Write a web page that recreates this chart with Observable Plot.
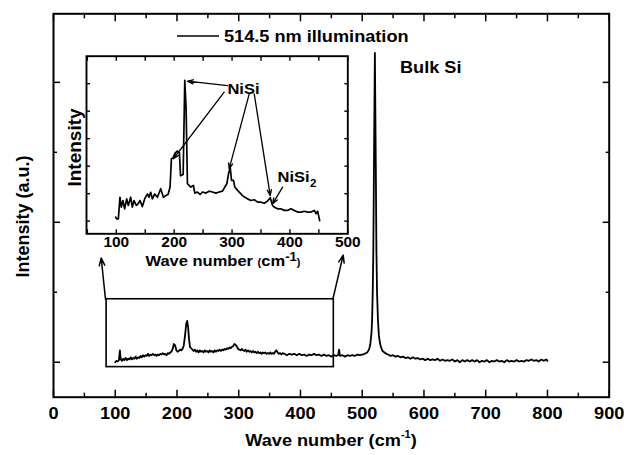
<!DOCTYPE html>
<html><head><meta charset="utf-8">
<script src="https://cdn.jsdelivr.net/npm/d3@7"></script>
<script src="https://cdn.jsdelivr.net/npm/@observablehq/plot@0.6"></script>
<style>
body{margin:0;background:#fff;}
#wrap{position:relative;width:624px;height:455px;background:#fff;}
#wrap svg{position:absolute;left:0;top:0;overflow:visible;}
</style></head><body><div id="wrap"></div>
<script>
// ---- main spectrum (wave number cm-1, intensity a.u.) ----
const mainWave = [100,102,104,106,107.5,109,111,113,115,117,119,121,123,125,127,129,131,133,135,137,139,141,143,145,147,149,151,153,155,157,159,161,163,165,167,169,171,173,175,177,179,181,183,185,187,189,191,193,195,197,199,201,203,205,207,209,211,213,215,216.5,218,219.5,221,223,225,227,229,231,233,235,237,239,241,243,245,247,249,251,253,255,257,259,261,263,265,267,269,271,273,275,277,279,281,283,285,287,289,291,293,295,297,299,301,303,305,307,309,311,313,315,317,319,321,323,325,327,329,331,333,335,337,339,341,343,345,347,349,351,353,355,357,359,361,363,365,367,369,371,374,378,382,386,390,394,398,402,406,410,414,418,422,426,430,434,438,442,446,450,454,458,461,462.5,464,468,472,476,480,484,488,492,496,500,504,508,511,513,515,516,517,518,519,520.5,522,523,524,525.5,527,529,531,533,536,539,542,546,550,554,558,562,566,570,574,578,582,586,590,594,598,602,606,610,614,618,622,626,630,634,638,642,646,650,654,658,662,666,670,674,678,682,686,690,694,698,702,706,710,714,718,722,726,730,734,738,742,746,750,754,758,762,766,770,774,778,782,786,790,794,798,800];
const mainIntensity = [0.0,0.02,0.01,0.03,0.17,0.04,0.02,0.05,0.03,0.06,0.03,0.05,0.04,0.07,0.04,0.06,0.05,0.08,0.05,0.07,0.06,0.09,0.07,0.1,0.08,0.1,0.09,0.12,0.09,0.11,0.1,0.12,0.1,0.11,0.09,0.11,0.1,0.12,0.11,0.13,0.11,0.12,0.1,0.13,0.12,0.14,0.15,0.19,0.26,0.24,0.17,0.15,0.16,0.18,0.17,0.19,0.24,0.38,0.55,0.59,0.5,0.33,0.22,0.2,0.18,0.16,0.18,0.15,0.17,0.14,0.17,0.15,0.16,0.14,0.17,0.15,0.16,0.14,0.17,0.15,0.16,0.14,0.17,0.15,0.17,0.16,0.18,0.16,0.18,0.17,0.19,0.18,0.2,0.19,0.21,0.2,0.22,0.23,0.26,0.25,0.22,0.19,0.18,0.17,0.19,0.17,0.16,0.18,0.15,0.17,0.15,0.16,0.14,0.16,0.14,0.15,0.13,0.15,0.13,0.14,0.12,0.14,0.13,0.14,0.12,0.13,0.12,0.14,0.12,0.13,0.12,0.15,0.17,0.14,0.12,0.13,0.11,0.13,0.12,0.10,0.12,0.11,0.12,0.10,0.12,0.10,0.11,0.09,0.11,0.10,0.12,0.10,0.11,0.09,0.11,0.09,0.10,0.08,0.10,0.09,0.10,0.18,0.09,0.10,0.08,0.10,0.09,0.10,0.09,0.11,0.10,0.11,0.12,0.14,0.18,0.25,0.42,0.6,1.0,1.6,2.8,4.42,2.8,1.6,1.0,0.6,0.38,0.26,0.2,0.16,0.14,0.12,0.11,0.09,0.10,0.08,0.09,0.07,0.08,0.06,0.07,0.05,0.07,0.05,0.06,0.04,0.05,0.03,0.05,0.03,0.04,0.03,0.05,0.02,0.04,0.02,0.03,0.02,0.04,0.01,0.03,0.0,0.03,0.01,0.03,0.01,0.03,0.01,0.03,0.0,0.02,0.01,0.03,0.0,0.02,0.01,0.03,0.01,0.02,0.0,0.03,0.01,0.02,0.01,0.03,0.01,0.02,0.01,0.03,0.02,0.04,0.02,0.03,0.01,0.04,0.02,0.04,0.02];

// ---- inset spectrum ----
const insetWave = [99,100.6,103.5,106.3,108.7,111.5,114.4,117.9,120.8,124.8,127.7,130.6,134.6,137.5,141,145,149,153.7,156.5,159.4,162.3,166.4,171,176.7,181.4,185.4,189.4,192.9,195.2,198,201,205,209,211,215.5,218.3,220.6,222.9,225.8,228.7,233.3,235.6,240.2,244.8,248.9,254.6,260.4,266.2,272,277.7,283.5,287.5,291,293.9,296.8,299.1,302.5,304.8,309.5,314.1,318.1,322.2,326.8,332.5,338.3,344.1,349.9,355.6,361.4,366,370,372.9,378.7,384.5,390.2,396,401.8,407.6,413.3,419.1,424.9,430.6,436.4,442.2,445.1,447.9,451.4];
const insetIntensity = [0.15,0.08,0.08,0.87,0.51,0.75,0.45,0.81,0.57,0.87,0.51,0.75,0.57,0.63,0.75,0.53,0.81,0.99,0.87,1.05,0.81,0.99,0.87,1.18,0.87,0.93,0.97,1.24,2.27,2.3,2.45,2.55,2.5,1.65,1.7,5.12,4.1,1.36,1.30,1.24,1.30,1.02,1.06,0.97,1.06,1.02,1.09,1.06,1.02,1.06,1.09,1.24,1.36,1.72,1.96,1.48,1.48,1.24,1.12,1.02,0.93,0.87,0.81,0.75,0.78,0.69,0.69,0.65,0.73,0.85,0.57,0.51,0.45,0.45,0.39,0.39,0.45,0.39,0.33,0.33,0.36,0.33,0.33,0.39,0.27,0.36,0.02];

// ---- ticks ----
const xMajor = d3.range(0, 901, 100);
const xMinor = d3.range(50, 900, 100);
const yMajor = [0, 2, 4];
const yMinor = [1, 3];
const insetXTicks = d3.range(50, 501, 50);
const insetXLabels = [100, 200, 300, 400, 500];
const insetYTicks = [0, 1, 2, 3, 4, 5];

// ---- zoom box and its arrows (main coords) ----
const boxX = [86, 454];
const boxY = [-0.07, 0.9];
const zoomArrowX1 = [84.2, 452.4], zoomArrowY1 = [0.9, 0.9];
const zoomArrowX2 = [77.3, 469.2], zoomArrowY2 = [1.49, 1.53];

// ---- inset annotations (inset coords) ----
const annX1 = [292.2, 286.4, 329.7, 338.3, 387.4];
const annY1 = [4.93, 4.69, 4.63, 4.63, 1.24];
const annX2 = [222.9, 198.7, 295, 366, 370];
const annY2 = [5.09, 2.27, 1.90, 0.93, 0.63];
const labelNiSi = {x: 292, y: 4.8, text: "NiSi"};
const labelNiSi2 = {x: 378.7, y: 1.6, text: "NiSi", sub: "2"};

const FONT = "'Liberation Sans', Arial, Helvetica, sans-serif";
const STRETCH = 1.1;
const mainData = mainWave.map((w, i) => ({w, v: mainIntensity[i]}));
const insetData = insetWave.map((w, i) => ({w, v: insetIntensity[i]}));
const zoomArrows = zoomArrowX1.map((d, i) => ({x1: d, y1: zoomArrowY1[i], x2: zoomArrowX2[i], y2: zoomArrowY2[i]}));
const annArrows = annX1.map((d, i) => ({x1: d, y1: annY1[i], x2: annX2[i], y2: annY2[i]}));
const noText = () => "";

const main = Plot.plot({
  width: 624, height: 455,
  marginLeft: 53, marginRight: 15.3, marginTop: 13.3, marginBottom: 58.3,
  x: {domain: [0, 900]},
  y: {domain: [-0.5, 4.98]},
  style: {fontFamily: FONT, background: "transparent", color: "#000"},
  marks: [
    Plot.axisX({ticks: xMajor, anchor: "bottom", tickSize: 0, tickPadding: 10.5, fontSize: 16.5, fontWeight: "bold", label: null}),
    Plot.axisX({ticks: xMajor, anchor: "bottom", tickSize: -7, tickFormat: noText, label: null, strokeWidth: 1.5}),
    Plot.axisX({ticks: xMinor, anchor: "bottom", tickSize: -4, tickFormat: noText, label: null, strokeWidth: 1.5}),
    Plot.axisX({ticks: xMajor, anchor: "top", tickSize: -7, tickFormat: noText, label: null, strokeWidth: 1.5}),
    Plot.axisX({ticks: xMinor, anchor: "top", tickSize: -4, tickFormat: noText, label: null, strokeWidth: 1.5}),
    Plot.axisY({ticks: yMajor, anchor: "left", tickSize: -7, tickFormat: noText, label: null, strokeWidth: 1.5}),
    Plot.axisY({ticks: yMinor, anchor: "left", tickSize: -4, tickFormat: noText, label: null, strokeWidth: 1.5}),
    Plot.axisY({ticks: yMajor, anchor: "right", tickSize: -7, tickFormat: noText, label: null, strokeWidth: 1.5}),
    Plot.axisY({ticks: yMinor, anchor: "right", tickSize: -4, tickFormat: noText, label: null, strokeWidth: 1.5}),
    Plot.frame({stroke: "#000", strokeWidth: 2}),
    Plot.rect([{x1: boxX[0], x2: boxX[1], y1: boxY[0], y2: boxY[1]}], {x1: "x1", x2: "x2", y1: "y1", y2: "y2", fill: "none", stroke: "#000", strokeWidth: 1.6}),
    Plot.arrow(zoomArrows, {x1: "x1", y1: "y1", x2: "x2", y2: "y2", stroke: "#000", strokeWidth: 1.5, headLength: 8, headAngle: 40}),
    Plot.line(mainData, {x: "w", y: "v", stroke: "#000", strokeWidth: 1.8, strokeLinejoin: "round"})
  ]
});

const inset = Plot.plot({
  width: 624, height: 455,
  marginLeft: 86, marginRight: 276.7, marginTop: 55.7, marginBottom: 221.7,
  x: {domain: [48.5, 500]},
  y: {domain: [-0.46, 6.0]},
  style: {fontFamily: FONT, background: "transparent", color: "#000"},
  marks: [
    Plot.axisX({ticks: insetXLabels, anchor: "bottom", tickSize: 0, tickPadding: 3.5, fontSize: 14, fontWeight: "bold", label: null}),
    Plot.axisX({ticks: insetXTicks, anchor: "bottom", tickSize: -4, tickFormat: noText, label: null, strokeWidth: 1.4}),
    Plot.axisX({ticks: insetXTicks, anchor: "top", tickSize: -4, tickFormat: noText, label: null, strokeWidth: 1.4}),
    Plot.axisY({ticks: insetYTicks, anchor: "left", tickSize: -4, tickFormat: noText, label: null, strokeWidth: 1.4}),
    Plot.axisY({ticks: insetYTicks, anchor: "right", tickSize: -4, tickFormat: noText, label: null, strokeWidth: 1.4}),
    Plot.frame({stroke: "#000", strokeWidth: 1.9}),
    Plot.line(insetData, {x: "w", y: "v", stroke: "#000", strokeWidth: 1.7, strokeLinejoin: "round"}),
    Plot.arrow(annArrows, {x1: "x1", y1: "y1", x2: "x2", y2: "y2", stroke: "#000", strokeWidth: 1.3, headLength: 7, headAngle: 40}),
    Plot.text([labelNiSi], {x: "x", y: "y", text: "text", textAnchor: "start", fontSize: 15, fontWeight: "bold", fill: "#000"}),
    Plot.text([labelNiSi2], {x: "x", y: "y", text: "text", textAnchor: "start", fontSize: 15, fontWeight: "bold", fill: "#000"}),
    Plot.text([labelNiSi2], {x: "x", y: "y", text: "sub", textAnchor: "start", dx: 32.5, dy: 6, fontSize: 10.5, fontWeight: "bold", fill: "#000"})
  ]
});

const wrap = document.getElementById("wrap");
wrap.appendChild(main);
wrap.appendChild(inset);

function txt(sel, x, y, size, anchor) {
  return sel.append("text").attr("x", x).attr("y", y).attr("text-anchor", anchor)
    .attr("font-family", FONT).attr("font-size", size).attr("font-weight", "bold").attr("fill", "#000");
}

// titles, legend and labels
const ms = d3.select(main);
const t1 = txt(ms, 331, 446, 16.5, "middle").attr("class", "stretch");
t1.append("tspan").text("Wave number (cm");
t1.append("tspan").attr("font-size", 10).attr("dy", -8).text("-1");
t1.append("tspan").attr("dy", 8).text(")");

ms.append("text").attr("transform", "translate(28.5,216.5) rotate(-90)").attr("text-anchor", "middle")
  .attr("font-family", FONT).attr("font-size", 18).attr("font-weight", "bold").attr("fill", "#000")
  .text("Intensity (a.u.)");

ms.append("line").attr("x1", 177).attr("x2", 219).attr("y1", 36).attr("y2", 36)
  .attr("stroke", "#000").attr("stroke-width", 1.5);
txt(ms, 224, 42, 16.5, "start").attr("class", "stretch").text("514.5 nm illumination");
txt(ms, 400, 73, 16.5, "start").attr("class", "stretch").text("Bulk Si");

const is = d3.select(inset);
is.append("text").attr("transform", "translate(80.7,147.5) rotate(-90)").attr("text-anchor", "middle")
  .attr("font-family", FONT).attr("font-size", 19).attr("font-weight", "bold").attr("fill", "#000")
  .text("Intensity");
const t2 = txt(is, 223, 265.5, 15, "middle").attr("class", "stretch");
t2.append("tspan").text("Wave number ");
t2.append("tspan").attr("font-size", 10).text("(");
t2.append("tspan").text("cm");
t2.append("tspan").attr("font-size", 12).attr("dy", -5).text("-1");
t2.append("tspan").attr("font-size", 10).attr("dy", 5).text(")");

// widen glyphs slightly, as in the reference
function stretchTexts(svg, selector) {
  d3.select(svg).selectAll(selector).each(function () {
    const len = this.getComputedTextLength();
    if (len > 0) {
      this.setAttribute("textLength", (len * STRETCH).toFixed(2));
      this.setAttribute("lengthAdjust", "spacingAndGlyphs");
    }
  });
}
stretchTexts(main, "g[aria-label='x-axis tick label'] text, text.stretch");
stretchTexts(inset, "g[aria-label='x-axis tick label'] text, g[aria-label='text'] text, text.stretch");
</script>
</body></html>
